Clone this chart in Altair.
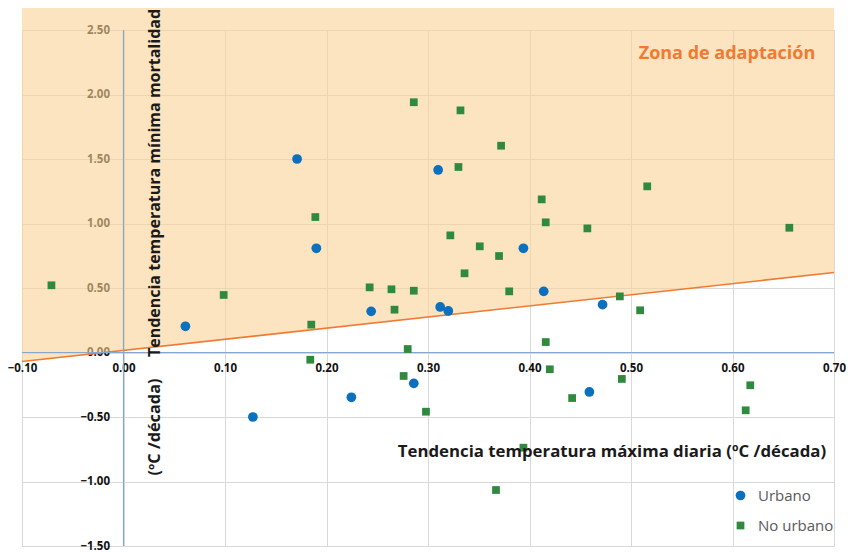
import altair as alt
import pandas as pd

# ---- data ----
urb_x = [0.061, 0.1275, 0.171, 0.190, 0.2245, 0.244, 0.286, 0.310, 0.312, 0.320, 0.394, 0.414, 0.459, 0.472]
urb_y = [0.203, -0.50, 1.50, 0.808, -0.347, 0.319, -0.239, 1.415, 0.353, 0.322, 0.808, 0.474, -0.306, 0.371]

nou_x = [-0.071, 0.0987, 0.184, 0.185, 0.189, 0.2425, 0.264, 0.267, 0.276, 0.280, 0.286, 0.286,
         0.298, 0.322, 0.330, 0.332, 0.336, 0.351, 0.367, 0.370, 0.372, 0.380, 0.394, 0.412,
         0.416, 0.416, 0.420, 0.442, 0.457, 0.489, 0.491, 0.509, 0.516, 0.613, 0.6175, 0.656]
nou_y = [0.521, 0.446, -0.056, 0.216, 1.05, 0.505, 0.49, 0.332, -0.182, 0.027, 1.94, 0.479,
         -0.459, 0.908, 1.438, 1.877, 0.614, 0.823, -1.066, 0.748, 1.603, 0.474, -0.738, 1.187,
         1.009, 0.081, -0.130, -0.353, 0.962, 0.435, -0.205, 0.327, 1.288, -0.448, -0.254, 0.967]

trend_x = [-0.10, 0.70]
trend_y = [-0.07, 0.62]
shade_top = [2.68, 2.68]

x_ticks = [-0.1, 0.0, 0.1, 0.2, 0.3, 0.4, 0.5, 0.6, 0.7]
y_ticks = [-1.5, -1.0, -0.5, 0.0, 0.5, 1.0, 1.5, 2.0, 2.5]

series = ["Urbano", "No urbano"]
colors = ["#0b70bd", "#2f8a3f"]
shapes = ["circle", "square"]
sizes = [95, 60]

pts = pd.DataFrame({
    "x": urb_x + nou_x,
    "y": urb_y + nou_y,
    "tipo": ["Urbano"] * len(urb_x) + ["No urbano"] * len(nou_x),
})
trend = pd.DataFrame({"x": trend_x, "y": trend_y, "top": shade_top})
zero = pd.DataFrame({"v": [0.0]})

X = alt.Scale(domain=[-0.1, 0.7], nice=False, zero=False)
Y = alt.Scale(domain=[-1.5, 2.5], nice=False, zero=False)

W, H = 812, 516
FONT = "Open Sans"
TICKFONT = "Open Sans"

xaxis = alt.Axis(values=x_ticks, format=".2f", grid=True, gridColor="#d9d9d9", gridWidth=1,
                 domain=False, ticks=False, tickSize=0, labelPadding=11, offset=-195,
                 labelFont=TICKFONT, labelFontWeight="bold", labelFontSize=11.5,
                 labelColor="#111111", labelFlush=False, labelOverlap=False, title=None)
yaxis = alt.Axis(values=y_ticks, format=".2f", grid=True, gridColor="#d9d9d9", gridWidth=1,
                 domain=False, ticks=False, tickSize=0, labelPadding=14, offset=-101.5,
                 labelFont=TICKFONT, labelFontWeight="bold", labelFontSize=11.5,
                 labelColor="#111111", labelFlush=False, labelOverlap=False, title=None)

shade = alt.Chart(trend).mark_area(color="#fad296", opacity=0.6, clip=False).encode(
    x=alt.X("x:Q", scale=X, axis=xaxis),
    y=alt.Y("y:Q", scale=Y, axis=yaxis),
    y2="top:Q",
)

line = alt.Chart(trend).mark_line(color="#f07a32", strokeWidth=1.6).encode(
    x=alt.X("x:Q", scale=X), y=alt.Y("y:Q", scale=Y)
)

vrule = alt.Chart(zero).mark_rule(color="#86a8cf", strokeWidth=1.2).encode(x=alt.X("v:Q", scale=X))
hrule = alt.Chart(zero).mark_rule(color="#86a8cf", strokeWidth=1.2).encode(y=alt.Y("v:Q", scale=Y))

leg = alt.Legend(title=None, orient="none", legendX=711, legendY=458,
                 labelFont=FONT, labelFontSize=15, labelColor="#595959",
                 rowPadding=14, symbolSize=70, padding=0, labelOffset=10)

points = alt.Chart(pts).mark_point(filled=True, opacity=1).encode(
    x=alt.X("x:Q", scale=X),
    y=alt.Y("y:Q", scale=Y),
    color=alt.Color("tipo:N", scale=alt.Scale(domain=series, range=colors), legend=leg),
    shape=alt.Shape("tipo:N", scale=alt.Scale(domain=series, range=shapes), legend=leg),
    size=alt.Size("tipo:N", scale=alt.Scale(domain=series, range=sizes), legend=None),
)

def label(text, x, y, size=16, color="#1a1a1a", angle=0, align="center"):
    return alt.Chart(pd.DataFrame({"t": [text]})).mark_text(
        font=FONT, fontWeight="bold", fontSize=size, color=color, angle=angle,
        align=align, baseline="middle"
    ).encode(text="t:N", x=alt.value(x), y=alt.value(y))

t_y1 = label("Tendencia temperatura mínima mortalidad", 133, 153, size=16, angle=270)
t_y2 = label("(ºC /década)", 133, 397, size=16.3, angle=270)
t_x = label("Tendencia temperatura máxima diaria (ºC /década)", 590, 422, size=16.8)
t_zone = label("Zona de adaptación", 705, 24, size=18, color="#f07a32")

chart = alt.layer(shade, line, vrule, hrule, points, t_y1, t_y2, t_x, t_zone).properties(
    width=W, height=H,
    autosize=alt.AutoSizeParams(type="none"),
    padding={"left": 14, "top": 22, "right": 14, "bottom": 6},
).configure_view(stroke=None).configure(background="white")

chart.save("out.html", embed_options={"renderer": "svg", "actions": False})
